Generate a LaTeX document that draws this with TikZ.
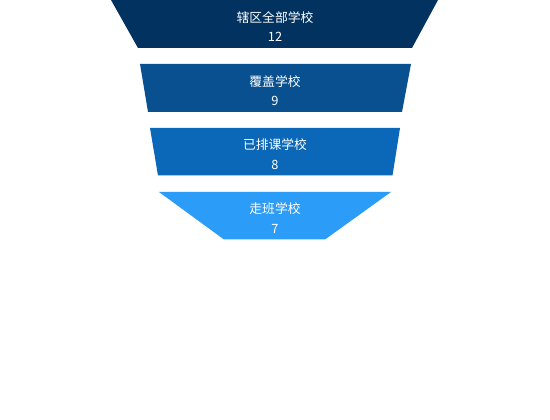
\documentclass[tikz,border=0pt]{standalone}
\usepackage{fontspec}
\setmainfont{Noto Sans CJK SC}
\definecolor{c1}{RGB}{2,51,96}
\definecolor{c2}{RGB}{9,80,145}
\definecolor{c3}{RGB}{11,103,184}
\definecolor{c4}{RGB}{43,156,248}
\tikzset{
  lbl/.style={text=white, font=\fontsize{12.8}{14}\selectfont, inner sep=0pt, anchor=center},
}
\begin{document}
\begin{tikzpicture}[x=1pt,y=-1pt]
\useasboundingbox (0,0) rectangle (550,420);
\fill[white] (0,0) rectangle (550,420);
% trapezoids
\fill[c1] (111,0) -- (438,0) -- (412,48) -- (138,48) -- cycle;
\fill[c2] (140,64) -- (411,64) -- (402,112) -- (148,112) -- cycle;
\fill[c3] (150,128) -- (400,128) -- (392.5,175.5) -- (158,175.5) -- cycle;
\fill[c4] (159,192) -- (391,192) -- (325,239.5) -- (224,239.5) -- cycle;
% labels
\node[lbl] (t1) at (275,17.5) {辖区全部学校};
\node[lbl] (n1) at (275,37) {12};
\node[lbl] (t2) at (275,81.5) {覆盖学校};
\node[lbl] (n2) at (275,101) {9};
\node[lbl] (t3) at (275,145) {已排课学校};
\node[lbl] (n3) at (275,164.5) {8};
\node[lbl] (t4) at (275,209) {走班学校};
\node[lbl] (n4) at (275,228.5) {7};
\end{tikzpicture}
\end{document}
